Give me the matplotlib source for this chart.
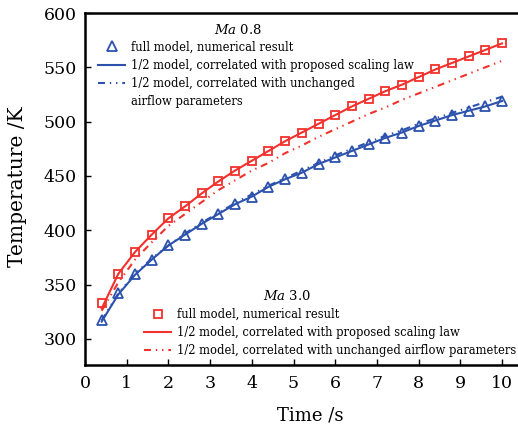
import numpy as np
import matplotlib
matplotlib.use("Agg")
import matplotlib.pyplot as plt
from matplotlib.lines import Line2D

# ---------------------------------- data ----------------------------------
time = [0.4, 0.8, 1.2, 1.6, 2.0, 2.4, 2.8, 3.2, 3.6, 4.0, 4.4, 4.8, 5.2,
        5.6, 6.0, 6.4, 6.8, 7.2, 7.6, 8.0, 8.4, 8.8, 9.2, 9.6, 10.0]

# Ma 0.8 (blue)
ma08_full = [317, 342, 360, 373, 386, 396, 406, 415, 424, 431, 440, 447, 453,
             461, 467, 473, 479, 485, 490, 496, 501, 506, 510, 514, 519]
ma08_scaling = [316, 341, 359, 373, 386, 396, 406, 415, 424, 431, 440, 447, 453,
                461, 467, 473, 479, 485, 490, 496, 501, 506, 510, 514, 519]
ma08_unchanged = [317, 342, 360, 374, 386, 397, 407, 416, 425, 433, 441, 448, 455,
                  462, 469, 475, 481, 487, 492, 498, 503, 508, 513, 518, 523]

# Ma 3.0 (red)
ma30_full = [333, 360, 380, 396, 411, 422, 434, 445, 455, 464, 473, 482, 490,
             498, 506, 514, 521, 528, 534, 541, 548, 554, 560, 566, 572]
ma30_scaling = [328, 360, 380, 396, 411, 422, 434, 445, 455, 464, 473, 482, 490,
                498, 506, 514, 521, 528, 534, 541, 548, 554, 560, 566, 572]
ma30_unchanged = [326, 352, 373, 389, 404, 415, 426, 437, 446, 455, 462, 471, 478,
                  486, 493, 500, 507, 513, 520, 526, 532, 538, 544, 550, 556]

xticks = list(range(0, 11))
yticks = [300, 350, 400, 450, 500, 550, 600]
# --------------------------------------------------------------------------

plt.rcParams['font.family'] = ['DejaVu Serif']
plt.rcParams['mathtext.fontset'] = 'dejavuserif'
plt.rcParams['lines.scale_dashes'] = False

blue = '#2c52ad'
red = '#f2302c'
dashdot = (0, (5, 3.5, 1, 3.5, 1, 3.5))

fig = plt.figure(figsize=(5.18, 4.25), dpi=100)
ax = fig.add_axes([85 / 518, 60 / 425, 435 / 518, 352 / 425])

ax.plot(time, ma08_scaling, color=blue, lw=1.5)
ax.plot(time, ma08_unchanged, color=blue, lw=1.5, linestyle=dashdot)
ax.plot(time, ma08_full, linestyle='none', marker='^', ms=7.5, mfc='none',
        mec=blue, mew=1.3)

ax.plot(time, ma30_scaling, color=red, lw=1.5)
ax.plot(time, ma30_unchanged, color=red, lw=1.5, linestyle=dashdot)
ax.plot(time, ma30_full, linestyle='none', marker='s', ms=6, mfc='none',
        mec=red, mew=1.3)

ax.set_xlim(0, 435 / 41.7)
ax.set_ylim(276, 600)
ax.set_xticks(xticks)
ax.set_yticks(yticks)
ax.tick_params(direction='in', length=4, width=1, labelsize=12.5)
ax.tick_params(axis='x', pad=7)
ax.tick_params(axis='y', pad=6)
for s in ax.spines.values():
    s.set_linewidth(1.8)
ax.spines['right'].set_visible(False)

ax.set_xlabel('Time /s', fontsize=13)
ax.set_ylabel('Temperature /K', fontsize=14.5)
ax.xaxis.set_label_coords((310 - 85) / 435, -(407 - 365) / 352)
ax.yaxis.set_label_coords(-(85 - 27) / 435, (365 - 187) / 352)

# legends
def blank():
    return Line2D([], [], linestyle='none')

h1 = [Line2D([], [], linestyle='none', marker='^', ms=7.5, mfc='none', mec=blue, mew=1.3),
      Line2D([], [], color=blue, lw=1.5),
      Line2D([], [], color=blue, lw=1.5, linestyle=dashdot),
      blank()]
l1 = ['full model, numerical result',
      '1/2 model, correlated with proposed scaling law',
      '1/2 model, correlated with unchanged',
      'airflow parameters']
leg1 = ax.legend(h1, l1, loc='upper left', bbox_to_anchor=(0.012, 0.945),
                 frameon=False, fontsize=8.3, handlelength=2.3, handletextpad=0.5,
                 labelspacing=0.45, borderpad=0.2)
ax.add_artist(leg1)
ax.text((238 - 85) / 435, (365 - 30) / 352, r'$Ma$ 0.8', transform=ax.transAxes,
        ha='center', va='center', fontsize=9.5)

h2 = [Line2D([], [], linestyle='none', marker='s', ms=6, mfc='none', mec=red, mew=1.3),
      Line2D([], [], color=red, lw=1.5),
      Line2D([], [], color=red, lw=1.5, linestyle=dashdot)]
l2 = ['full model, numerical result',
      '1/2 model, correlated with proposed scaling law',
      '1/2 model, correlated with unchanged airflow parameters']
ax.legend(h2, l2, loc='upper left', bbox_to_anchor=(0.118, 0.186),
          frameon=False, fontsize=8.3, handlelength=2.3, handletextpad=0.5,
          labelspacing=0.45, borderpad=0.2)
ax.text((287 - 85) / 435, (365 - 296) / 352, r'$Ma$ 3.0', transform=ax.transAxes,
        ha='center', va='center', fontsize=9.5)

fig.savefig('out.png', dpi=100)
